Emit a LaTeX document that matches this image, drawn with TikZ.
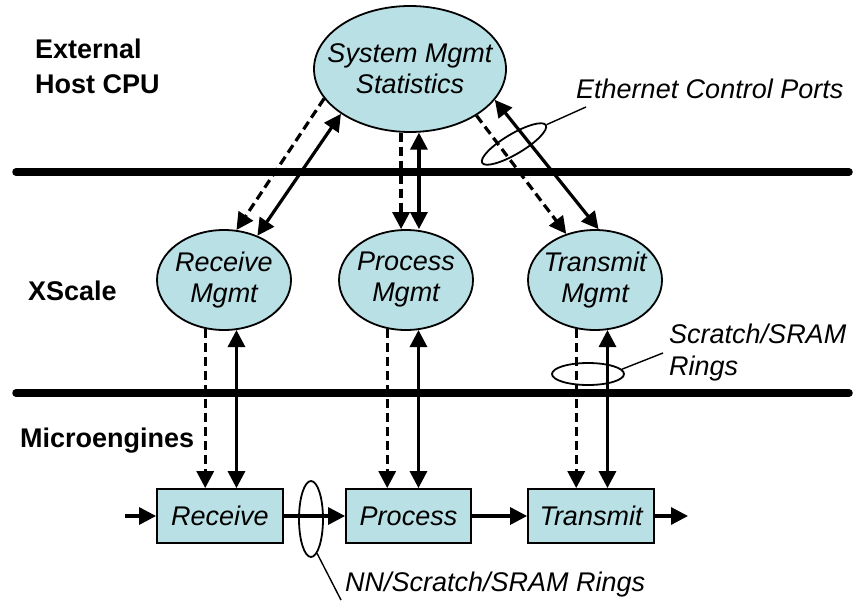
\documentclass[tikz,border=0pt]{standalone}
\usepackage{fontspec}
\setmainfont{Liberation Sans}
\usetikzlibrary{arrows.meta,shapes.geometric,calc}
\definecolor{nodefill}{RGB}{185,224,228}
\begin{document}
\begin{tikzpicture}[x=1pt,y=-1pt,
  every node/.style={inner sep=0pt},
  txt/.style={font=\fontsize{27}{31}\selectfont\itshape, align=center},
  lbl/.style={font=\fontsize{27}{34}\selectfont\bfseries},
  note/.style={font=\fontsize{27}{32}\selectfont\itshape},
  mgmt/.style={ellipse, draw, line width=1.8pt, fill=nodefill},
  stage/.style={rectangle, draw, line width=1.8pt, fill=nodefill,
    minimum width=126pt, minimum height=54pt, txt},
  tier/.style={line width=7.5pt, line cap=round},
  ctl/.style={line width=3.2pt, -{Triangle[length=17pt,width=17pt]}},
  ctlboth/.style={line width=3.2pt, {Triangle[length=17pt,width=17pt]}-{Triangle[length=17pt,width=17pt]}},
  dsh/.style={dash pattern=on 9pt off 5pt},
  ring/.style={ellipse, draw, line width=1.8pt},
  leader/.style={line width=1.4pt},
]
\useasboundingbox (0,0) rectangle (856,602);

% tier separators
\coordinate (t1a) at (16,172);
\coordinate (t1b) at (849,172);
\coordinate (t2a) at (16,393);
\coordinate (t2b) at (849,393);
\draw[tier] (t1a) -- (t1b);
\draw[tier] (t2a) -- (t2b);

% layer labels
\node[lbl, anchor=base west] (ext1) at (35,59) {External};
\node[lbl, anchor=base west] (ext2) at (35,93) {Host CPU};
\node[lbl, anchor=base west] (xs) at (28,300) {XScale};
\node[lbl, anchor=base west] (me) at (20,447) {Microengines};

% host CPU
\node[mgmt, minimum width=192pt, minimum height=126pt] (sys) at (410,69) {};
\node[txt] (sysT) at (sys) {System Mgmt\\Statistics};

% XScale management tasks
\node[mgmt, minimum width=134pt, minimum height=100pt] (rm) at (224,280) {};
\node[txt] (rmT) at (rm) {Receive\\Mgmt};
\node[mgmt, minimum width=134pt, minimum height=100pt] (pm) at (406,280) {};
\node[txt] (pmT) at (pm) {Process\\Mgmt};
\node[mgmt, minimum width=134pt, minimum height=100pt] (tm) at (595,280) {};
\node[txt] (tmT) at (tm) {Transmit\\Mgmt};

% microengine pipeline
\node[stage] (rb) at (220,516) {Receive};
\node[stage, minimum width=125pt] (pb) at (408.5,516) {Process};
\node[stage] (tb) at (591,516) {Transmit};

\coordinate (in) at (125,516);
\coordinate (out) at (688,516);
\draw[ctl] (in) -- (rb);
\draw[ctl] (rb) -- (pb);
\draw[ctl] (pb) -- (tb);
\draw[ctl] (tb) -- (out);

% host CPU <-> XScale
\draw[ctl, dsh] (sys.199) -- (rm.76);
\draw[ctlboth] (rm.53) -- (sys.213.9);
\draw[ctl, dsh] (sys.-98.2) -- (sys.-98.2 |- pm.north);
\draw[ctlboth] (sys.-82.7) -- (sys.-82.7 |- pm.north);
\draw[ctl, dsh] (sys.-35.5) -- (tm.122.8);
\draw[ctlboth] (tm.86.6) -- (sys.-20.8);

% XScale <-> microengines
\draw[ctl, dsh] (rm.-111.6) -- (rm.-111.6 |- rb.north);
\draw[ctlboth] (rm.-76.3) -- (rm.-76.3 |- rb.north);
\draw[ctl, dsh] (pm.-111.6) -- (pm.-111.6 |- pb.north);
\draw[ctlboth] (pm.-76.3) -- (pm.-76.3 |- pb.north);
\draw[ctl, dsh] (tm.-111.6) -- (tm.-111.6 |- tb.north);
\draw[ctlboth] (tm.-76.3) -- (tm.-76.3 |- tb.north);

% ring callouts
\node[ring, minimum width=74pt, minimum height=20pt, rotate=30.7] (ethring) at (514,144) {};
\coordinate (ethend) at (586,107);
\draw[leader] (ethring.east) -- (ethend);
\node[note, anchor=base west] (ethT) at (576,98) {Ethernet Control Ports};

\node[ring, minimum width=72pt, minimum height=22pt] (srring) at (588,374) {};
\coordinate (srend) at (663,353);
\draw[leader] (srring.8) -- (srend);
\node[note, anchor=base west] (srT1) at (669,343) {Scratch/SRAM};
\node[note, anchor=base west] (srT2) at (669,375) {Rings};

\node[ring, minimum width=24pt, minimum height=76pt] (nnring) at (311,519) {};
\coordinate (nnend) at (341,600);
\draw[leader] (nnring.-80) -- (nnend);
\node[note, anchor=base west] (nnT) at (345,591) {NN/Scratch/SRAM Rings};
\end{tikzpicture}
\end{document}
